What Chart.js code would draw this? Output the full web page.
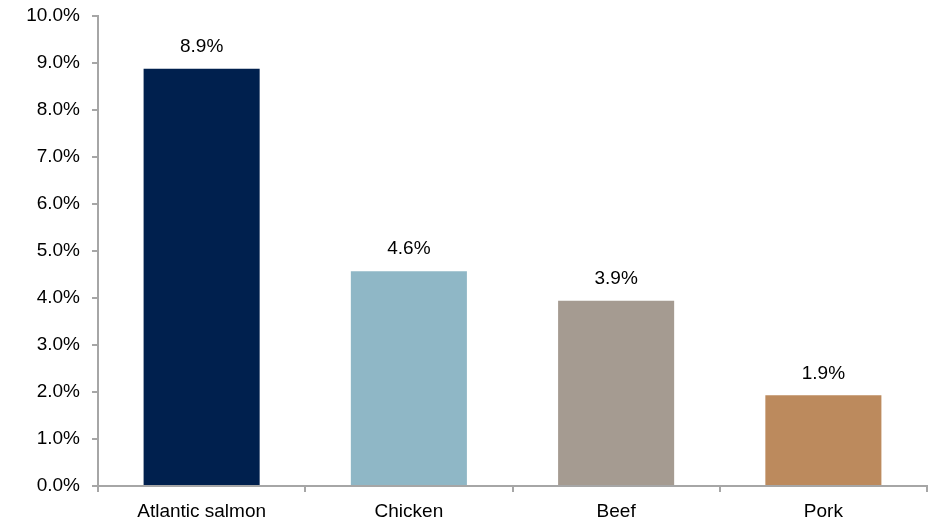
<!DOCTYPE html>
<html>
<head>
<meta charset="utf-8">
<script src="https://cdn.jsdelivr.net/npm/chart.js@4/dist/chart.umd.min.js"></script>
<style>
  html, body { margin: 0; padding: 0; background: #fff; }
  #wrap { width: 935px; height: 521px; }
</style>
</head>
<body>
<div id="wrap"><canvas id="barChart"></canvas></div>
<script>
"use strict";

const categories = ['Atlantic salmon', 'Chicken', 'Beef', 'Pork'];
const growth = [8.88, 4.57, 3.94, 1.93];
const barColors = ['#00204e', '#8fb7c6', '#a59b91', '#bc8a5d'];
const yTicks = [0, 1, 2, 3, 4, 5, 6, 7, 8, 9, 10];

const axisGrey = '#a6a6a6';
const fontFamily = '"Liberation Sans", Arial, sans-serif';
const fontSize = 19;

// Simple plugin for the value labels above the bars
const valueLabels = {
    id: 'valueLabels',
    afterDatasetsDraw(chart) {
        const ctx = chart.ctx;
        const meta = chart.getDatasetMeta(0);
        ctx.save();
        ctx.font = fontSize + 'px ' + fontFamily;
        ctx.fillStyle = '#000';
        ctx.textAlign = 'center';
        ctx.textBaseline = 'middle';
        meta.data.forEach((bar, i) => {
            ctx.fillText(growth[i].toFixed(1) + '%', bar.x, bar.y - 22);
        });
        ctx.restore();
    }
};

window.onload = init;

function init() {
    const barchartEl = document.getElementById('barChart');

    new Chart(barchartEl, {
        type: 'bar',
        data: {
            labels: categories,
            datasets: [{
                data: growth,
                backgroundColor: barColors,
                borderWidth: 0,
                barPercentage: 0.56,
                categoryPercentage: 1
            }]
        },
        options: {
            responsive: true,
            maintainAspectRatio: false,
            animation: false,
            layout: { padding: { top: 16, right: 8, left: 0, bottom: 0 } },
            plugins: {
                legend: { display: false },
                tooltip: { enabled: false }
            },
            scales: {
                x: {
                    grid: {
                        offset: true,
                        drawOnChartArea: false,
                        color: axisGrey,
                        lineWidth: 2,
                        tickLength: 6
                    },
                    border: { color: axisGrey, width: 2 },
                    ticks: {
                        color: '#000',
                        padding: 8,
                        font: { family: fontFamily, size: fontSize }
                    },
                    afterFit(scale) {
                        scale.height = 35;
                        scale.paddingLeft = 0;
                        scale.paddingRight = 0;
                    }
                },
                y: {
                    min: 0,
                    max: 10,
                    afterBuildTicks(scale) {
                        scale.ticks = yTicks.map(v => ({ value: v }));
                    },
                    grid: {
                        drawOnChartArea: false,
                        color: axisGrey,
                        lineWidth: 2,
                        tickLength: 6
                    },
                    border: { color: axisGrey, width: 2 },
                    ticks: {
                        color: '#000',
                        padding: 12,
                        font: { family: fontFamily, size: fontSize },
                        callback: v => v.toFixed(1) + '%'
                    },
                    afterFit(scale) {
                        scale.width = 98;
                        scale.paddingTop = 0;
                        scale.paddingBottom = 0;
                    }
                }
            }
        },
        plugins: [valueLabels]
    });
}
</script>
</body>
</html>
